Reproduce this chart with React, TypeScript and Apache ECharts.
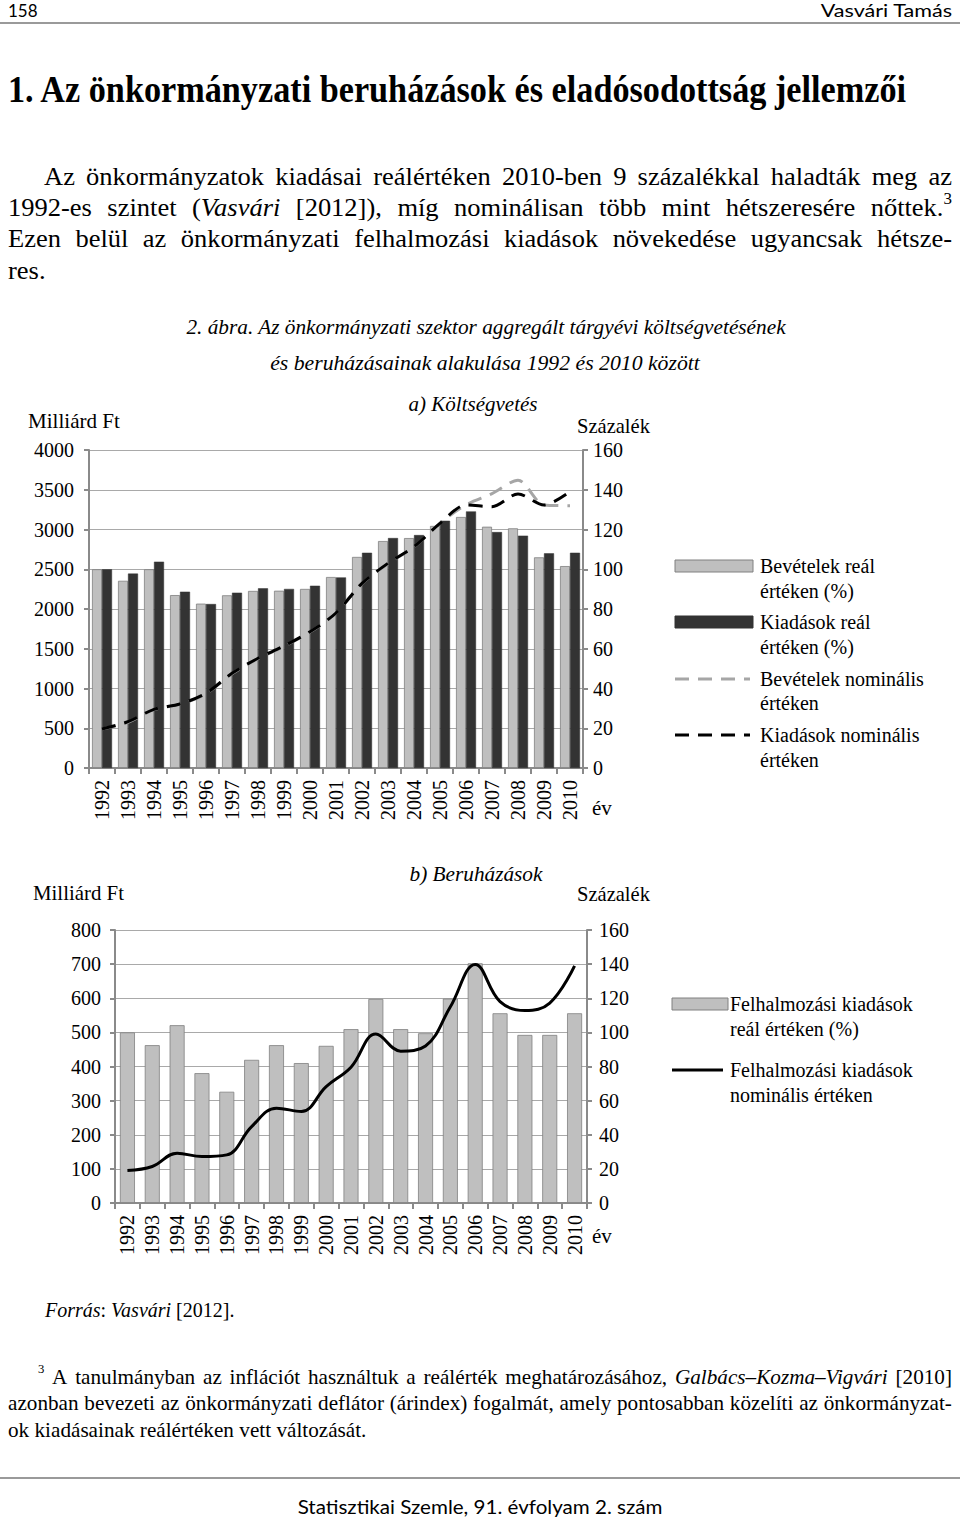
import React, { useEffect, useRef } from 'react';
import * as echarts from 'echarts';

// ---------- DATA ----------
const years = ['1992','1993','1994','1995','1996','1997','1998','1999','2000','2001','2002','2003','2004','2005','2006','2007','2008','2009','2010'];
// a) Költségvetés – real values (%), right axis
const revenueReal = [100, 94.2, 100, 87.0, 82.7, 86.9, 89.1, 89.2, 90.1, 96.1, 106.2, 114.2, 115.7, 121.8, 126.3, 121.4, 120.6, 106.0, 101.6];
const spendingReal = [100, 97.8, 103.8, 88.7, 82.5, 88.2, 90.4, 90.1, 91.7, 95.9, 108.3, 115.7, 117.2, 124.4, 129.1, 118.7, 116.9, 108.0, 108.3];
// a) nominal values (Milliárd Ft), left axis
const revenueNominal = [490, 575, 735, 800, 935, 1185, 1375, 1530, 1710, 1950, 2320, 2570, 2780, 3080, 3310, 3450, 3620, 3310, 3300];
const spendingNominal = [490, 583, 738, 805, 940, 1191, 1380, 1535, 1715, 1950, 2323, 2575, 2784, 3078, 3308, 3287, 3447, 3308, 3476];
// b) Beruházások
const investReal = [100, 92.5, 104.2, 76.1, 65.2, 83.9, 92.5, 82.0, 92.1, 101.9, 119.6, 101.9, 99.5, 119.8, 140.5, 111.2, 98.5, 98.5, 111.2];
const investNominal = [95, 107, 146, 136, 141, 224, 278, 268, 341, 398, 495, 445, 460, 575, 699, 590, 564, 586, 695];

// ---------- TEXT ----------
const SERIF = 'Liberation Serif';
const SANS = 'Lato';

const paragraph = [
  'Az önkormányzatok kiadásai reálértéken 2010-ben 9 százalékkal haladták meg az',
  '1992-es szintet (*Vasvári* [2012]), míg nominálisan több mint hétszeresére nőttek.^3^',
  'Ezen belül az önkormányzati felhalmozási kiadások növekedése ugyancsak hétsze-',
  'res.',
];
const footnote = [
  '^3^ A tanulmányban az inflációt használtuk a reálérték meghatározásához, *Galbács–Kozma–Vigvári* [2010]',
  'azonban bevezeti az önkormányzati deflátor (árindex) fogalmát, amely pontosabban közelíti az önkormányzat-',
  'ok kiadásainak reálértéken vett változását.',
];

let mctx: CanvasRenderingContext2D | null = null;
function measure(text: string, font: string): number {
  if (!mctx) mctx = document.createElement('canvas').getContext('2d');
  if (!mctx) return text.length * 10;
  mctx.font = font;
  return mctx.measureText(text).width;
}
function cssFont(style: string, weight: string, size: number, family: string) {
  return `${style} ${weight} ${size}px "${family}"`;
}

type Seg = { t: string; s: 'n' | 'i' | 'sup' };
function parseWord(w: string): Seg[] {
  const segs: Seg[] = [];
  const re = /\*([^*]+)\*|\^([^^]+)\^|([^*^]+)/g;
  let m: RegExpExecArray | null;
  while ((m = re.exec(w))) {
    if (m[1]) segs.push({ t: m[1], s: 'i' });
    else if (m[2]) segs.push({ t: m[2], s: 'sup' });
    else segs.push({ t: m[3], s: 'n' });
  }
  return segs;
}
function segFont(seg: Seg, size: number) {
  if (seg.s === 'sup') return { style: 'normal', size: Math.round(size * 0.62) };
  if (seg.s === 'i') return { style: 'italic', size };
  return { style: 'normal', size };
}
function lineEls(text: string, x0: number, x1: number | null, y: number, size: number, hs: number): any[] {
  const words = text.split(' ').map(parseWord);
  const widths = words.map(ws => ws.reduce((a, s) => {
    const f = segFont(s, size);
    return a + hs * measure(s.t, cssFont(f.style, 'normal', f.size, SERIF));
  }, 0));
  const sum = widths.reduce((a, b) => a + b, 0);
  let gap = hs * measure(' ', cssFont('normal', 'normal', size, SERIF));
  if (x1 !== null && words.length > 1) gap = (x1 - x0 - sum) / (words.length - 1);
  const els: any[] = [];
  let cx = x0;
  words.forEach((ws) => {
    ws.forEach(s => {
      const f = segFont(s, size);
      els.push({
        type: 'text', x: cx, y: s.s === 'sup' ? y - size * 0.38 : y, scaleX: hs, silent: true,
        style: { text: s.t, fontFamily: SERIF, fontSize: f.size, fontStyle: f.style, fill: '#000', align: 'left', verticalAlign: 'middle' },
      });
      cx += hs * measure(s.t, cssFont(f.style, 'normal', f.size, SERIF));
    });
    cx += gap;
  });
  return els;
}
function fitText(text: string, x: number, y: number, width: number, size: number, opts: any = {}): any {
  const family = opts.family || SERIF;
  const style = opts.style || 'normal';
  const weight = opts.weight || 'normal';
  const natural = measure(text, cssFont(style, weight, size, family));
  return {
    type: 'text', x, y, scaleX: width / natural, silent: true,
    style: { text, fontFamily: family, fontSize: size, fontStyle: style, fontWeight: weight, fill: opts.fill || '#000', align: opts.align || 'left', verticalAlign: 'middle' },
  };
}
function txt(text: string, x: number, y: number, size: number, opts: any = {}): any {
  return {
    type: 'text', x, y, silent: true,
    style: { text, fontFamily: opts.family || SERIF, fontSize: size, fontStyle: opts.style || 'normal', fill: '#000', align: opts.align || 'left', verticalAlign: 'middle' },
  };
}

const GRID = '#a9a9a9';
const AXIS = '#8a8a8a';

function yAxisCfg(gridIndex: number, position: 'left' | 'right', max: number, interval: number, margin: number, showSplit: boolean) {
  return {
    type: 'value', gridIndex, position, min: 0, max, interval,
    axisLine: { show: true, lineStyle: { color: AXIS, width: 2 } },
    axisTick: { show: true, length: 5, lineStyle: { color: AXIS, width: 2 } },
    axisLabel: { fontFamily: SERIF, fontSize: 20, color: '#000', margin, formatter: (v: number) => String(v) },
    splitLine: { show: showSplit, lineStyle: { color: GRID, width: 1 } },
  };
}
function xAxisCfg(gridIndex: number, margin: number) {
  return {
    type: 'category', gridIndex, data: years,
    axisLine: { lineStyle: { color: AXIS, width: 2 } },
    axisTick: { show: true, length: 6, lineStyle: { color: AXIS, width: 2 } },
    axisLabel: { rotate: 90, interval: 0, fontFamily: SERIF, fontSize: 20, color: '#000', margin },
  };
}

export default function App() {
  const ref = useRef<HTMLDivElement>(null);
  useEffect(() => {
    if (!ref.current) return;
    const chart = echarts.init(ref.current, undefined, { renderer: 'svg' });

    const graphic: any[] = [];
    // header
    graphic.push(txt('158', 8, 10, 17, { family: SANS }));
    graphic.push(fitText('Vasvári Tamás', 952, 10, 132, 17, { family: SANS, align: 'right' }));
    graphic.push({ type: 'line', shape: { x1: 0, y1: 23, x2: 960, y2: 23 }, style: { stroke: '#9a9a9a', lineWidth: 2 }, silent: true });
    // title
    graphic.push(fitText('1. Az önkormányzati beruházások és eladósodottság jellemzői', 8, 90, 900, 37, { weight: 'bold' }));
    // paragraph
    graphic.push(...lineEls(paragraph[0], 44, 952, 177, 25, 1.06));
    graphic.push(...lineEls(paragraph[1], 8, 952, 208, 25, 1.06));
    graphic.push(...lineEls(paragraph[2], 8, 952, 239, 25, 1.06));
    graphic.push(...lineEls(paragraph[3], 8, null, 271, 25, 1.06));
    // caption
    graphic.push(fitText('2. ábra. Az önkormányzati szektor aggregált tárgyévi költségvetésének', 486, 327, 600, 22, { style: 'italic', align: 'center' }));
    graphic.push(fitText('és beruházásainak alakulása 1992 és 2010 között', 485, 363, 430, 22, { style: 'italic', align: 'center' }));
    // chart a labels
    graphic.push(fitText('a) Költségvetés', 473, 404, 129, 21, { style: 'italic', align: 'center' }));
    graphic.push(fitText('Milliárd Ft', 28, 421, 92, 21));
    graphic.push(fitText('Százalék', 577, 425, 73, 21));
    graphic.push(txt('év', 592, 808, 21));
    // legend a
    graphic.push({ type: 'rect', shape: { x: 675, y: 560, width: 78, height: 12 }, style: { fill: '#bfbfbf', stroke: '#808080', lineWidth: 1 }, silent: true });
    graphic.push(txt('Bevételek reál', 760, 566, 20));
    graphic.push(txt('értéken (%)', 760, 591, 20));
    graphic.push({ type: 'rect', shape: { x: 675, y: 616, width: 78, height: 12 }, style: { fill: '#333333', stroke: '#333333', lineWidth: 1 }, silent: true });
    graphic.push(txt('Kiadások reál', 760, 622, 20));
    graphic.push(txt('értéken (%)', 760, 647, 20));
    graphic.push({ type: 'line', shape: { x1: 675, y1: 679, x2: 750, y2: 679 }, style: { stroke: '#a6a6a6', lineWidth: 3, lineDash: [14, 9] }, silent: true });
    graphic.push(txt('Bevételek nominális', 760, 679, 20));
    graphic.push(txt('értéken', 760, 703, 20));
    graphic.push({ type: 'line', shape: { x1: 675, y1: 735, x2: 750, y2: 735 }, style: { stroke: '#000', lineWidth: 3, lineDash: [14, 9] }, silent: true });
    graphic.push(txt('Kiadások nominális', 760, 735, 20));
    graphic.push(txt('értéken', 760, 760, 20));
    // chart b labels
    graphic.push(fitText('b) Beruházások', 476, 874, 133, 21, { style: 'italic', align: 'center' }));
    graphic.push(fitText('Milliárd Ft', 33, 893, 91, 21));
    graphic.push(fitText('Százalék', 577, 893, 73, 21));
    graphic.push(txt('év', 592, 1236, 21));
    // legend b
    graphic.push({ type: 'rect', shape: { x: 672, y: 998, width: 56, height: 12 }, style: { fill: '#bfbfbf', stroke: '#808080', lineWidth: 1 }, silent: true });
    graphic.push(txt('Felhalmozási kiadások', 730, 1004, 20));
    graphic.push(txt('reál értéken (%)', 730, 1029, 20));
    graphic.push({ type: 'line', shape: { x1: 672, y1: 1070, x2: 723, y2: 1070 }, style: { stroke: '#000', lineWidth: 3 }, silent: true });
    graphic.push(txt('Felhalmozási kiadások', 730, 1070, 20));
    graphic.push(txt('nominális értéken', 730, 1095, 20));
    // source
    graphic.push(...lineEls('*Forrás*: *Vasvári* [2012].', 45, null, 1310, 20, 1.0));
    // footnote
    graphic.push(...lineEls(footnote[0], 38, 952, 1377, 20, 1.06));
    graphic.push(...lineEls(footnote[1], 8, 952, 1403, 20, 1.06));
    graphic.push(...lineEls(footnote[2], 8, null, 1430, 20, 1.06));
    // footer
    graphic.push({ type: 'line', shape: { x1: 0, y1: 1478, x2: 960, y2: 1478 }, style: { stroke: '#9a9a9a', lineWidth: 2 }, silent: true });
    graphic.push(fitText('Statisztikai Szemle, 91. évfolyam 2. szám', 480, 1506, 365, 20, { family: SANS, align: 'center' }));

    chart.setOption({
      animation: false,
      backgroundColor: '#fff',
      grid: [
        { left: 89, top: 450, width: 494, height: 318 },
        { left: 115, top: 930, width: 472, height: 273 },
      ],
      xAxis: [xAxisCfg(0, 12), xAxisCfg(1, 12)],
      yAxis: [
        yAxisCfg(0, 'left', 4000, 500, 15, true),
        yAxisCfg(0, 'right', 160, 20, 10, false),
        yAxisCfg(1, 'left', 800, 100, 14, true),
        yAxisCfg(1, 'right', 160, 20, 12, false),
      ],
      series: [
        { name: 'Bevételek reál értéken (%)', type: 'bar', xAxisIndex: 0, yAxisIndex: 1, data: revenueReal, barWidth: 10, barGap: '0%',
          itemStyle: { color: '#bfbfbf', borderColor: '#808080', borderWidth: 0.8 } },
        { name: 'Kiadások reál értéken (%)', type: 'bar', xAxisIndex: 0, yAxisIndex: 1, data: spendingReal, barWidth: 10, barGap: '0%',
          itemStyle: { color: '#333333', borderColor: '#333333', borderWidth: 0.5 } },
        { name: 'Bevételek nominális értéken', type: 'line', xAxisIndex: 0, yAxisIndex: 0, data: revenueNominal, smooth: 0.3, symbol: 'none',
          lineStyle: { color: '#a6a6a6', width: 3, type: [14, 9] } },
        { name: 'Kiadások nominális értéken', type: 'line', xAxisIndex: 0, yAxisIndex: 0, data: spendingNominal, smooth: 0.3, symbol: 'none',
          lineStyle: { color: '#000', width: 3, type: [14, 9] } },
        { name: 'Felhalmozási kiadások reál értéken (%)', type: 'bar', xAxisIndex: 1, yAxisIndex: 3, data: investReal, barWidth: 15,
          itemStyle: { color: '#bfbfbf', borderColor: '#808080', borderWidth: 0.8 } },
        { name: 'Felhalmozási kiadások nominális értéken', type: 'line', xAxisIndex: 1, yAxisIndex: 2, data: investNominal, smooth: 0.4, symbol: 'none',
          lineStyle: { color: '#000', width: 3 } },
      ],
      graphic,
    });
    return () => chart.dispose();
  }, []);
  return <div ref={ref} style={{ position: 'absolute', left: 0, top: 0, width: 960, height: 1521, background: '#fff' }} />;
}
